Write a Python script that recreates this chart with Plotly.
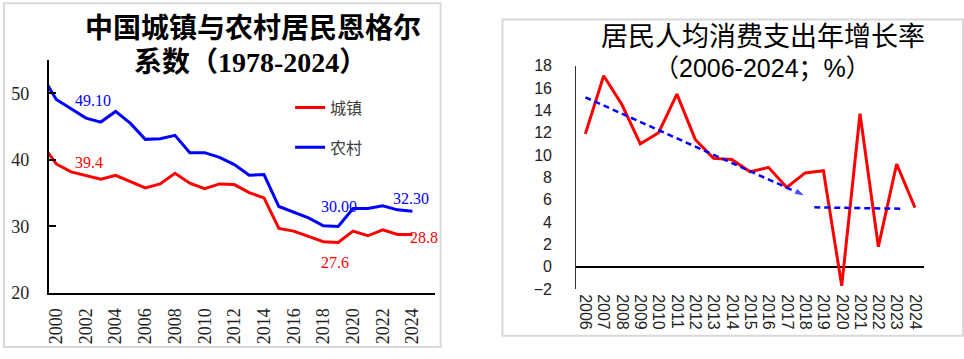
import plotly.graph_objects as go

# ---------------- data ----------------
years_left = list(range(1999, 2025))
urban = [42.5, 39.4, 38.2, 37.7, 37.1, 37.7, 36.8, 35.8, 36.4, 38.0, 36.5, 35.7, 36.4,
         36.3, 35.1, 34.3, 29.7, 29.3, 28.5, 27.7, 27.6, 29.3, 28.6, 29.5, 28.8, 28.8]
rural = [52.8, 49.1, 47.7, 46.3, 45.7, 47.3, 45.5, 43.1, 43.2, 43.7, 41.1, 41.1, 40.4,
         39.3, 37.7, 37.8, 33.0, 32.1, 31.3, 30.1, 30.0, 32.7, 32.7, 33.1, 32.5, 32.3]
left_ticks = list(range(2000, 2025, 2))

years_right = list(range(2006, 2025))
growth = [11.9, 17.1, 14.5, 11.0, 12.0, 15.45, 11.4, 9.7, 9.6, 8.5, 8.9, 7.1, 8.4, 8.6,
          -1.7, 13.7, 1.8, 9.2, 5.3]
trend1_x = [2006.0, 2018.0]
trend1_y = [15.17, 6.35]
trend2_x = [2018.5, 2023.2]
trend2_y = [5.32, 5.2]

W, H = 964, 359
def px(x): return x / W
def py(y): return 1 - y / H

RED = "#ff0000"
BLUE = "#0000ff"
SERIF = "Liberation Serif, Noto Sans CJK SC"
SANS = "Liberation Sans, Noto Sans CJK SC"

fig = go.Figure()

fig.add_trace(go.Scatter(x=years_left, y=urban, mode="lines", name="城镇",
                         line=dict(color=RED, width=3), legendgroup="a",
                         xaxis="x", yaxis="y"))
fig.add_trace(go.Scatter(x=years_left, y=rural, mode="lines", name="农村",
                         line=dict(color=BLUE, width=3), legendgroup="b",
                         xaxis="x", yaxis="y"))

fig.add_trace(go.Scatter(x=years_right, y=growth, mode="lines", showlegend=False,
                         line=dict(color=RED, width=3), xaxis="x2", yaxis="y2"))
fig.add_trace(go.Scatter(x=trend1_x, y=trend1_y, mode="lines+markers", showlegend=False,
                         line=dict(color=BLUE, width=2.5, dash="6px,4px"),
                         marker=dict(symbol=["circle", "arrow"], size=[0, 11],
                                     angleref="previous", color=BLUE),
                         xaxis="x2", yaxis="y2"))
fig.add_trace(go.Scatter(x=trend2_x, y=trend2_y, mode="lines", showlegend=False,
                         line=dict(color=BLUE, width=2.5, dash="6px,4px"),
                         xaxis="x2", yaxis="y2"))

# left value labels
def idx(yr): return years_left.index(yr)
labels = [
    (2000, rural[idx(2000)], f"{rural[idx(2000)]:.2f}", BLUE, 37, -1),
    (2000, urban[idx(2000)], f"{urban[idx(2000)]:.1f}", RED, 33, 1),
    (2019, rural[idx(2019)], f"{rural[idx(2019)]:.2f}", BLUE, 1, 20),
    (2024, rural[idx(2024)], f"{rural[idx(2024)]:.2f}", BLUE, -1, 13),
    (2024, urban[idx(2024)], f"{urban[idx(2024)]:.1f}", RED, 12, -3),
    (2019, urban[idx(2019)], f"{urban[idx(2019)]:.1f}", RED, -3, -20),
]
annotations = []
for x, y, t, c, dx, dy in labels:
    annotations.append(dict(x=x, y=y, xref="x", yref="y", text=t, showarrow=False,
                            xshift=dx, yshift=dy, xanchor="center", yanchor="middle",
                            font=dict(family="Liberation Serif", size=16, color=c)))

# titles
def title(x, y, text, family, size):
    return dict(x=px(x), y=py(y), xref="paper", yref="paper", text=text,
                xanchor="center", yanchor="middle", showarrow=False,
                font=dict(family=family, size=size, color="#000"))

annotations += [
    title(251, 22, "<b>中国城镇与农村居民恩格尔</b>", SERIF, 28),
    title(248, 57, "<b>系数（1978-2024）</b>", SERIF, 28),
    title(762, 31, "居民人均消费支出年增长率", SANS, 27),
    title(762, 63, "（2006-2024；%）", SANS, 25),
]

shapes = [
    dict(type="rect", xref="paper", yref="paper", x0=px(1), x1=px(439), y0=py(357), y1=py(-5),
         line=dict(color="#d9d9d9", width=2), fillcolor="rgba(0,0,0,0)", layer="below"),
    dict(type="rect", xref="paper", yref="paper", x0=px(501), x1=px(963), y0=py(345), y1=py(12),
         line=dict(color="#d9d9d9", width=2), fillcolor="rgba(0,0,0,0)", layer="below"),
]

fig.update_layout(
    width=W, height=H, margin=dict(l=0, r=0, t=0, b=0),
    paper_bgcolor="white", plot_bgcolor="rgba(0,0,0,0)",
    showlegend=True,
    legend=dict(x=px(288), y=py(87), xanchor="left", yanchor="top",
                font=dict(family=SANS, size=16, color="#404040"),
                tracegroupgap=16, traceorder="grouped", bgcolor="rgba(0,0,0,0)"),
    xaxis=dict(domain=[px(46), px(433)], range=[1999.5, 2025.5], tickvals=left_ticks,
               ticktext=[str(v) for v in left_ticks], tickangle=-90, showgrid=False,
               zeroline=False, showline=True, linecolor="#000", linewidth=2, ticks="",
               tickfont=dict(family="Liberation Serif", size=18, color="#222"),
               ticklabelstandoff=6, anchor="y"),
    yaxis=dict(domain=[py(300), py(55)], range=[20, 55], tickvals=[20, 30, 40, 50],
               showgrid=False, zeroline=False, showline=True, linecolor="#000", linewidth=2,
               ticks="inside", ticklen=7, tickwidth=2, tickcolor="#000",
               tickfont=dict(family="Liberation Serif", size=18, color="#222"),
               ticklabelstandoff=14, anchor="x"),
    xaxis2=dict(domain=[px(575), px(924)], range=[2005.5, 2024.5], tickvals=years_right,
                ticktext=[str(v) for v in years_right], tickangle=90, showgrid=False,
                zeroline=False, showline=False, ticks="",
                tickfont=dict(family="Liberation Sans", size=16, color="#222"),
                ticklabelstandoff=4, anchor="y2"),
    yaxis2=dict(domain=[py(296), py(60.7)], range=[-2, 18], dtick=2, showgrid=False,
                zeroline=True, zerolinecolor="#000", zerolinewidth=1.5,
                showline=True, linecolor="#333", linewidth=1, ticks="",
                tickfont=dict(family="Liberation Sans", size=16, color="#222"),
                ticklabelstandoff=20, anchor="x2"),
    annotations=annotations, shapes=shapes,
)

fig.write_html(
    "out.html", config={"displayModeBar": False},
    post_script=("document.body.style.margin='0';"
                 "document.body.style.overflow='hidden';"),
)
